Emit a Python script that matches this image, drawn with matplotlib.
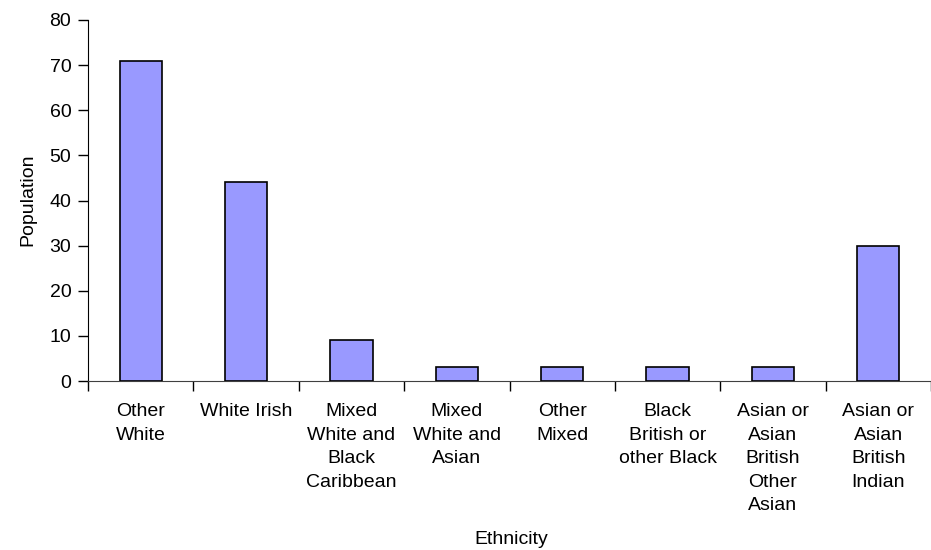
import matplotlib
matplotlib.use("Agg")
import matplotlib.pyplot as plt
import numpy as np

categories = [
    "Other\nWhite",
    "White Irish",
    "Mixed\nWhite and\nBlack\nCaribbean",
    "Mixed\nWhite and\nAsian",
    "Other\nMixed",
    "Black\nBritish or\nother Black",
    "Asian or\nAsian\nBritish\nOther\nAsian",
    "Asian or\nAsian\nBritish\nIndian",
]
population = [71, 44, 9, 3, 3, 3, 3, 30]
y_ticks = [0, 10, 20, 30, 40, 50, 60, 70, 80]

plt.rcParams["font.family"] = ["Liberation Sans", "DejaVu Sans"]
FS = 14

W, H = 931, 550
fig = plt.figure(figsize=(W / 100, H / 100), dpi=100)
ax = fig.add_axes([88 / W, (H - 381) / H, (931 - 88) / W, (381 - 20) / H])

x = np.arange(len(categories))
ax.bar(x, population, width=0.4, color="#9999FF", edgecolor="black", linewidth=1.2, zorder=3)

ax.set_xlim(-0.5, len(categories) - 0.5)
ax.set_ylim(0, 80)
ax.set_yticks(y_ticks)
ax.tick_params(axis="y", labelsize=FS, length=7, width=1, direction="out", pad=5)

ax.set_xticks(np.arange(len(categories) + 1) - 0.5)
ax.set_xticklabels([])
ax.tick_params(axis="x", which="major", length=7, width=1, direction="out")
ax.set_xticks(x, minor=True)
ax.set_xticklabels(categories, minor=True, fontsize=FS, linespacing=1.5, va="top")
ax.tick_params(axis="x", which="minor", length=0, pad=16)

for side in ["top", "right"]:
    ax.spines[side].set_visible(False)
ax.spines["left"].set_color("black")
ax.spines["bottom"].set_color("#404040")

fig.text(28 / W, 1 - 200 / H, "Population", rotation=90, ha="center", va="center", fontsize=FS)
fig.text(511 / W, 1 - 539 / H, "Ethnicity", ha="center", va="center", fontsize=FS)

fig.savefig("out.png", dpi=100)
